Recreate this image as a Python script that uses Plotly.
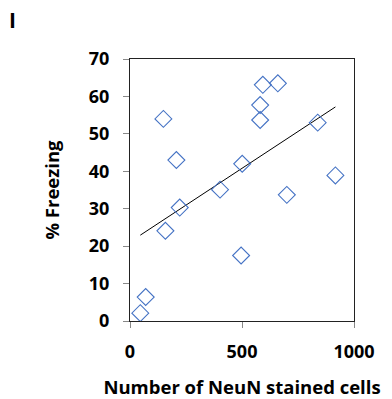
import numpy as np
import plotly.graph_objects as go

neun_cells = [46, 70, 149, 207, 222, 158, 402, 501, 496, 581, 581, 593, 660, 700, 838, 917]
freezing = [2.1, 6.4, 54.0, 43.0, 30.3, 24.1, 35.1, 42.0, 17.5, 53.7, 57.7, 63.1, 63.5, 33.7, 53.0, 38.9]

x_ticks = [0, 500, 1000]
y_ticks = [0, 10, 20, 30, 40, 50, 60, 70]

slope, intercept = np.polyfit(neun_cells, freezing, 1)
tx = [min(neun_cells), max(neun_cells)]
ty = [slope * v + intercept for v in tx]

FONT = "Open Sans"

fig = go.Figure()
fig.add_trace(go.Scatter(x=tx, y=ty, mode="lines",
                         line=dict(color="#000000", width=1), showlegend=False, hoverinfo="skip"))
fig.add_trace(go.Scatter(x=neun_cells, y=freezing, mode="markers",
                         marker=dict(symbol="diamond-open", size=13, color="#4472C4",
                                     line=dict(width=1.1, color="#4472C4")),
                         showlegend=False))

axis_common = dict(showgrid=False, zeroline=False, showline=True, linecolor="#222222", linewidth=1,
                   mirror=True, ticks="outside", ticklen=6, tickcolor="#888888", tickwidth=1,
                   automargin=False,
                   tickfont=dict(family=FONT, size=18, color="#000000", weight="bold"))

fig.update_layout(
    width=392, height=399,
    margin=dict(l=130, r=38, t=59, b=78),
    paper_bgcolor="white", plot_bgcolor="white",
    xaxis=dict(range=[0, 1000], tickvals=x_ticks, ticktext=[str(v) for v in x_ticks],
               ticklabelstandoff=8,
               title=dict(text="<b>Number of NeuN stained cells</b>", standoff=24,
                          font=dict(family=FONT, size=18.5, color="#000000")),
               **axis_common),
    yaxis=dict(range=[0, 70], tickvals=y_ticks, ticktext=[str(v) for v in y_ticks],
               ticklabelstandoff=10,
               title=dict(text="<b>% Freezing</b>", standoff=24,
                          font=dict(family=FONT, size=18.5, color="#000000")),
               **axis_common),
    annotations=[dict(text="<b>I</b>", x=-118 / 224, y=1 + 39 / 262, xref="paper", yref="paper",
                      showarrow=False, xanchor="center", yanchor="middle",
                      font=dict(family=FONT, size=21, color="#000000"))],
)

fig.write_html("out.html")
